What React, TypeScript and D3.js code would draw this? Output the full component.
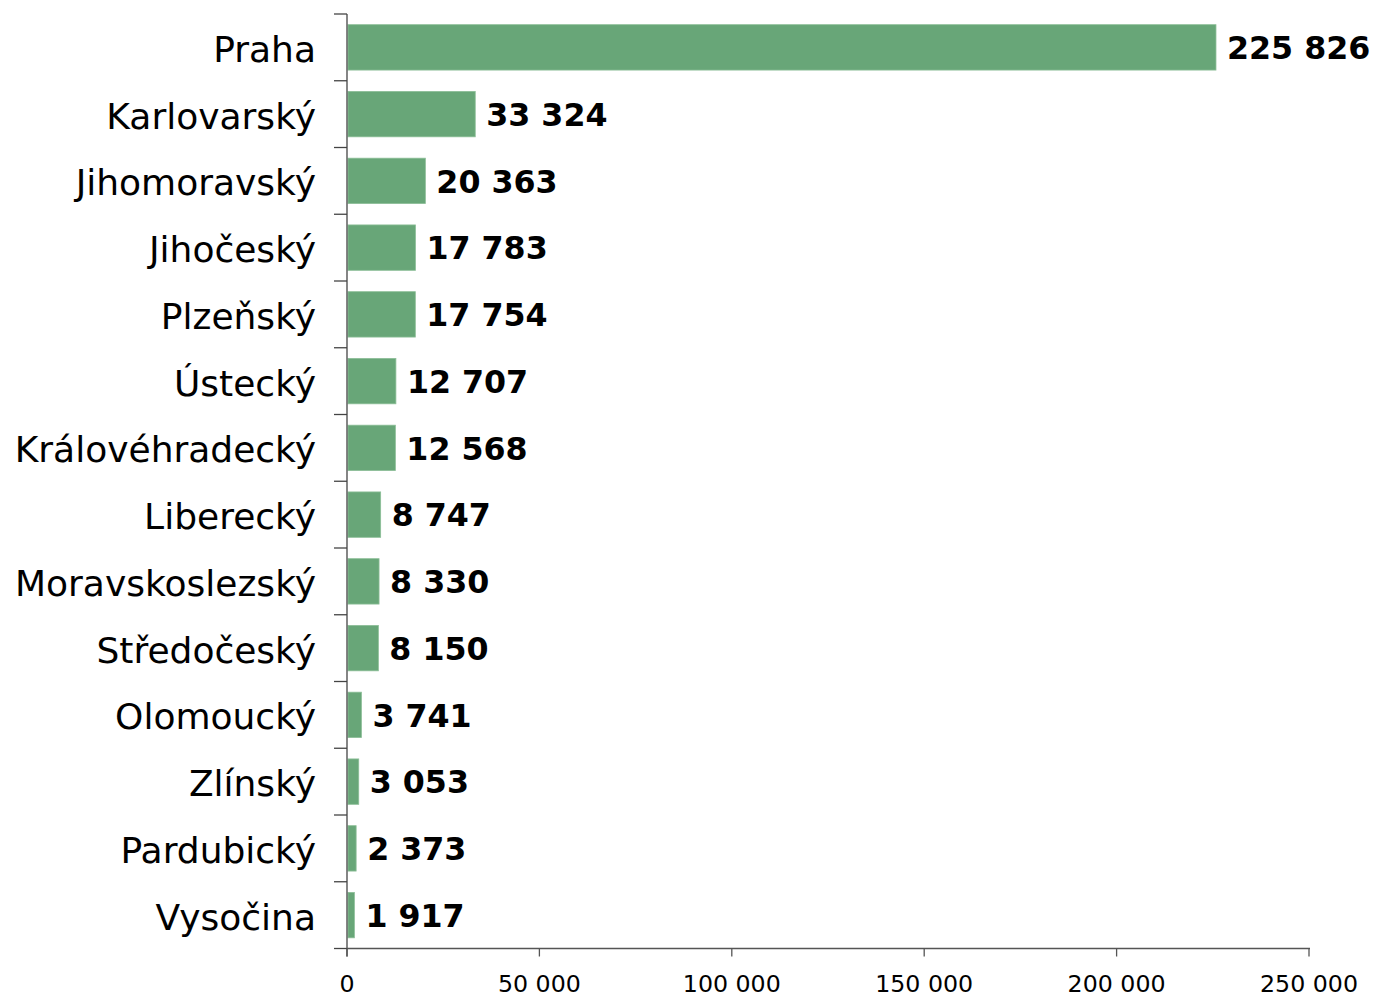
import React from "react";
import * as d3 from "d3";

const regions = [
  "Praha",
  "Karlovarský",
  "Jihomoravský",
  "Jihočeský",
  "Plzeňský",
  "Ústecký",
  "Královéhradecký",
  "Liberecký",
  "Moravskoslezský",
  "Středočeský",
  "Olomoucký",
  "Zlínský",
  "Pardubický",
  "Vysočina",
];
const values = [225826, 33324, 20363, 17783, 17754, 12707, 12568, 8747, 8330, 8150, 3741, 3053, 2373, 1917];
const xTicks = [0, 50000, 100000, 150000, 200000, 250000];

const W = 1377;
const H = 996;
const left = 347;
const right = 1309;
const top = 14;
const bottom = 948.5;

const fmt = (v: number) => d3.format(",")(v).replace(/,/g, " ");

export default function App() {
  const x = d3.scaleLinear().domain([0, 250000]).range([left, right]);
  const y = d3.scaleBand<string>().domain(regions).range([top, bottom]).paddingInner(0.32).paddingOuter(0.16);
  const step = y.step();
  const font = "'DejaVu Sans', Verdana, sans-serif";
  const axisColor = "#444";

  return (
    <svg
      width={W}
      height={H}
      style={{ position: "absolute", left: 0, top: 0, display: "block", background: "#fff" }}
      fontFamily={font}
    >
      {regions.map((r, i) => {
        const yy = y(r)!;
        const cy = yy + y.bandwidth() / 2;
        return (
          <g key={r}>
            <rect
              x={x(0) + 1}
              y={yy}
              width={Math.max(1, x(values[i]) - x(0) - 1)}
              height={y.bandwidth()}
              fill="#68a678"
              stroke="#8cbe97"
              strokeWidth={0.8}
            />
            <text x={316} y={cy} dy="0.4em" textAnchor="end" fontSize={36} fill="#000">
              {r}
            </text>
            <text x={x(values[i]) + 11} y={cy} dy="0.37em" fontSize={31.7} fontWeight="bold" fill="#000">
              {fmt(values[i])}
            </text>
          </g>
        );
      })}
      {/* y-axis */}
      <line x1={left} x2={left} y1={top} y2={bottom + 8} stroke={axisColor} strokeWidth={1.3} />
      {d3.range(regions.length + 1).map((k) => (
        <line key={k} x1={left - 13} x2={left} y1={top + k * step} y2={top + k * step} stroke={axisColor} strokeWidth={1.3} />
      ))}
      {/* x-axis */}
      <line x1={left} x2={right + 1} y1={bottom} y2={bottom} stroke="#555" strokeWidth={1.3} />
      {xTicks.map((t) => (
        <g key={t}>
          <line x1={x(t)} x2={x(t)} y1={bottom} y2={bottom + 8} stroke="#555" strokeWidth={1.3} />
          <text x={x(t)} y={991.5} textAnchor="middle" fontSize={23.7} fill="#000">
            {fmt(t)}
          </text>
        </g>
      ))}
    </svg>
  );
}
